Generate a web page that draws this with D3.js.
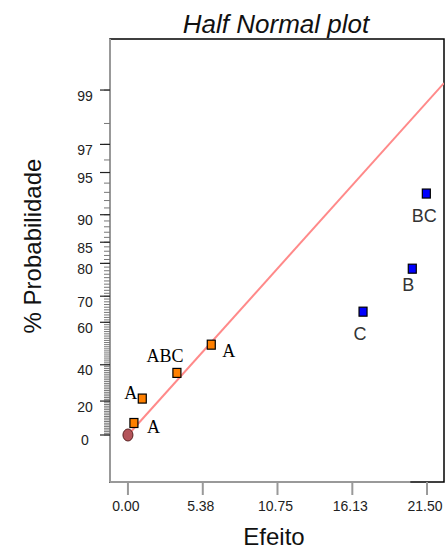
<!DOCTYPE html>
<html lang="pt">
<head>
<meta charset="utf-8">
<title>Half Normal plot</title>
<script src="https://d3js.org/d3.v7.min.js"></script>
<style>
  body { margin: 0; background: #fff; }
  svg text { font-family: Arial, "Liberation Sans", sans-serif; }
</style>
</head>
<body>
<script>
// ---- data ----
var effLabels = ["A", "A", "ABC", "A", "C", "B", "BC"];
var effValues = [0.43, 1.03, 3.52, 5.99, 16.90, 20.44, 21.45];
var effProb   = [7.14, 21.43, 35.71, 50.0, 64.29, 78.57, 92.86];
var effGroup  = ["o", "o", "o", "o", "b", "b", "b"];   // o = orange (minor), b = blue (significant)
var refX = [0.0];
var refP = [0.0];
var lineX = [0, 22.72];
var lineP = [0, 99.14];
var xTicks = [0, 5.38, 10.75, 16.13, 21.50];
var yTicks = [0, 20, 40, 60, 70, 80, 85, 90, 95, 97, 99];

// ---- layout ----
var W = 447, H = 551;
var margin = {top: 39, right: 3, bottom: 69, left: 110},
    width = W - margin.left - margin.right,
    height = H - margin.top - margin.bottom;

// inverse standard normal CDF (Acklam)
function qnorm(p) {
  var a = [-3.969683028665376e+01, 2.209460984245205e+02, -2.759285104469687e+02, 1.383577518672690e+02, -3.066479806614716e+01, 2.506628277459239e+00],
      b = [-5.447609879822406e+01, 1.615858368580409e+02, -1.556989798598866e+02, 6.680131188771972e+01, -1.328068155288572e+01],
      c = [-7.784894002430293e-03, -3.223964580411365e-01, -2.400758277161838e+00, -2.549732539343734e+00, 4.374664141464968e+00, 2.938163982698783e+00],
      d = [7.784695709041462e-03, 3.224671290700398e-01, 2.445134137142996e+00, 3.754408661907416e+00];
  var pl = 0.02425, q, r;
  if (p < pl) {
    q = Math.sqrt(-2 * Math.log(p));
    return (((((c[0]*q+c[1])*q+c[2])*q+c[3])*q+c[4])*q+c[5]) / ((((d[0]*q+d[1])*q+d[2])*q+d[3])*q+1);
  } else if (p <= 1 - pl) {
    q = p - 0.5; r = q * q;
    return (((((a[0]*r+a[1])*r+a[2])*r+a[3])*r+a[4])*r+a[5])*q / (((((b[0]*r+b[1])*r+b[2])*r+b[3])*r+b[4])*r+1);
  } else {
    q = Math.sqrt(-2 * Math.log(1 - p));
    return -(((((c[0]*q+c[1])*q+c[2])*q+c[3])*q+c[4])*q+c[5]) / ((((d[0]*q+d[1])*q+d[2])*q+d[3])*q+1);
  }
}
// half-normal quantile of a percentage
function hn(pct) { return pct <= 0 ? 0 : qnorm(0.5 + pct / 200); }

var xscale = d3.scaleLinear().domain([-1.29, 22.72]).range([0, width]);
var zscale = d3.scaleLinear().domain([-0.351, 2.957]).range([height, 0]);
function yscale(pct) { return zscale(hn(pct)); }

var svg = d3.select("body").append("svg")
    .attr("width", W).attr("height", H);

// title
svg.append("text")
    .attr("x", margin.left + width / 2 - 1).attr("y", 33)
    .attr("text-anchor", "middle")
    .style("font-size", "26px").style("font-style", "italic")
    .attr("fill", "#111")
    .text("Half Normal plot");

var g = svg.append("g")
    .attr("transform", "translate(" + margin.left + "," + margin.top + ")");

g.append("clipPath").attr("id", "clip")
  .append("rect").attr("width", width).attr("height", height);

// frame
g.append("rect")
    .attr("width", width).attr("height", height)
    .attr("fill", "none").attr("stroke", "#000").attr("stroke-width", 1.5);

// left axis line + bottom axis line (grey)
g.append("line").attr("x1", 0).attr("x2", 0).attr("y1", 0).attr("y2", height)
    .attr("stroke", "#999").attr("stroke-width", 2);
g.append("line").attr("x1", 0).attr("x2", xscale(20.3)).attr("y1", height).attr("y2", height)
    .attr("stroke", "#999").attr("stroke-width", 2);

// y minor ticks every 1%
var minor = d3.range(0, 100);
g.append("g").selectAll("line").data(minor).enter().append("line")
    .attr("x1", -6).attr("x2", 0)
    .attr("y1", function(d){ return yscale(d); })
    .attr("y2", function(d){ return yscale(d); })
    .attr("stroke", "#777").attr("stroke-width", 1);

// y major ticks + labels
var yAxis = g.append("g");
yAxis.selectAll("line").data(yTicks).enter().append("line")
    .attr("x1", -10).attr("x2", 0)
    .attr("y1", function(d){ return yscale(d); })
    .attr("y2", function(d){ return yscale(d); })
    .attr("stroke", "#222").attr("stroke-width", 1.2);
yAxis.selectAll("text").data(yTicks).enter().append("text")
    .attr("x", -25)
    .attr("y", function(d){ return yscale(d) + 10.5; })
    .attr("text-anchor", "middle")
    .style("font-size", "14px").attr("fill", "#222")
    .text(function(d){ return d; });

// x axis ticks
var xAxis = g.append("g").attr("transform", "translate(0," + height + ")");
xAxis.selectAll("line").data(xTicks).enter().append("line")
    .attr("x1", function(d){ return xscale(d); })
    .attr("x2", function(d){ return xscale(d); })
    .attr("y1", 0).attr("y2", 13)
    .attr("stroke", "#999").attr("stroke-width", 2);
xAxis.selectAll("text").data(xTicks).enter().append("text")
    .attr("x", function(d){ return xscale(d) - 2; })
    .attr("y", 29)
    .attr("text-anchor", "middle")
    .style("font-size", "14px").attr("fill", "#222")
    .text(function(d){ return d.toFixed(2); });

// axis titles
svg.append("text")
    .attr("x", 274).attr("y", 545)
    .attr("text-anchor", "middle")
    .style("font-size", "24px").attr("fill", "#111")
    .text("Efeito");
svg.append("text")
    .attr("transform", "translate(41,246) rotate(-90)")
    .attr("text-anchor", "middle")
    .style("font-size", "24px").attr("fill", "#111")
    .text("% Probabilidade");

// reference line
var line = d3.line()
    .x(function(d){ return xscale(d[0]); })
    .y(function(d){ return yscale(d[1]); });
g.append("path")
    .datum(d3.zip(lineX, lineP))
    .attr("clip-path", "url(#clip)")
    .attr("d", line)
    .attr("fill", "none").attr("stroke", "#ff8a8a").attr("stroke-width", 2);

// origin marker
g.selectAll("ellipse").data(d3.zip(refX, refP)).enter().append("ellipse")
    .attr("cx", function(d){ return xscale(d[0]); })
    .attr("cy", function(d){ return yscale(d[1]); })
    .attr("rx", 5).attr("ry", 6)
    .attr("fill", "#b4545a").attr("stroke", "#5a2020").attr("stroke-width", 1);

// effects
var pts = effValues.map(function(v, i){
  return {x: v, p: effProb[i], label: effLabels[i], grp: effGroup[i]};
});
g.selectAll("rect.pt").data(pts).enter().append("rect")
    .attr("class", "pt")
    .attr("x", function(d){ return xscale(d.x) - 4; })
    .attr("y", function(d){ return yscale(d.p) - 4.5; })
    .attr("width", 8).attr("height", 9)
    .attr("fill", function(d){ return d.grp === "o" ? "#ff8000" : "#0000ff"; })
    .attr("stroke", "#000").attr("stroke-width", 1.2);

// label placement (dx, dy, anchor) per point
var place = [
  [13, 10, "start"], [-5, 0, "end"], [-12, -11, "middle"], [11, 12, "start"],
  [-3, 28, "middle"], [-4, 22, "middle"], [-2, 28.5, "middle"]
];
g.selectAll("text.lab").data(pts).enter().append("text")
    .attr("class", "lab")
    .attr("x", function(d, i){ return xscale(d.x) + place[i][0]; })
    .attr("y", function(d, i){ return yscale(d.p) + place[i][1]; })
    .attr("text-anchor", function(d, i){ return place[i][2]; })
    .style("font-family", function(d){ return d.grp === "o" ? "'Liberation Serif', 'Times New Roman', serif" : "Arial, 'Liberation Sans', sans-serif"; })
    .style("font-size", "18px")
    .attr("fill", function(d){ return d.grp === "o" ? "#000" : "#333"; })
    .text(function(d){ return d.label; });
</script>
</body>
</html>
